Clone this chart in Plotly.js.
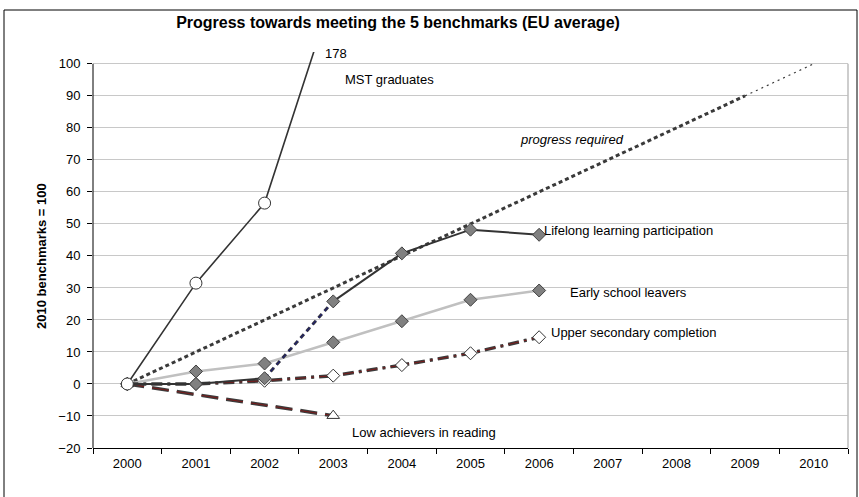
<!DOCTYPE html>
<html>
<head>
<meta charset="utf-8">
<script src="https://cdn.plot.ly/plotly-3.0.1.min.js"></script>
<style>
  html, body { margin: 0; padding: 0; background: #ffffff; }
  #chart { width: 859px; height: 497px; }
</style>
</head>
<body>
<div id="chart"></div>
<script>
// ---- data ----
var years = ['2000','2001','2002','2003','2004','2005','2006','2007','2008','2009','2010'];
var progressRequired = [0, 10, 20, 30, 40, 50, 60, 70, 80, 90, 100];
var mstYears = ['2000','2001','2002','2003'];
var mstGraduates = [0, 31.5, 56.5, 122.4];   // last point runs off the top of the chart
var mstLabel = '178';
var seriesYears = ['2000','2001','2002','2003','2004','2005','2006'];
var lifelong = [0, 0, 1.8, 25.8, 40.8, 48.2, 46.6];
var earlyLeavers = [0, 3.9, 6.4, 13.0, 19.6, 26.3, 29.2];
var upperSecondary = [0, 0, 1.0, 2.6, 5.9, 9.6, 14.6];
var readingYears = ['2000','2003'];
var lowAchievers = [0, -9.9];
var yTicks = [-20, -10, 0, 10, 20, 30, 40, 50, 60, 70, 80, 90, 100];

var FONT = 'Liberation Sans, Arial, Helvetica, sans-serif';
var dark = '#333333';

var traces = [];
// progress required (thick dotted, thinner at the end)
traces.push({x: years.slice(0, 10), y: progressRequired.slice(0, 10), mode: 'lines',
  line: {color: '#3a3a3a', width: 3, dash: '4px,3px'}, hoverinfo: 'skip'});
traces.push({x: years.slice(9), y: progressRequired.slice(9), mode: 'lines',
  line: {color: '#3a3a3a', width: 1.2, dash: '2px,4px'}, hoverinfo: 'skip'});
// early school leavers
traces.push({x: seriesYears, y: earlyLeavers, mode: 'lines+markers',
  line: {color: '#c0c0c0', width: 2.5},
  marker: {symbol: 'diamond', size: 10, color: '#808080', line: {color: '#404040', width: 1}}});
// low achievers in reading (long dashes, dark with red core)
traces.push({x: readingYears, y: lowAchievers, mode: 'lines',
  line: {color: '#3c3c3c', width: 3.5, dash: '17px,8px'}, hoverinfo: 'skip'});
traces.push({x: readingYears, y: lowAchievers, mode: 'lines+markers',
  line: {color: '#7a1a1a', width: 1, dash: '17px,8px'},
  marker: {symbol: 'triangle-up', size: 11, color: '#ffffff', line: {color: '#333333', width: 1}}});
// upper secondary completion (dash-dot, dark with red core)
traces.push({x: seriesYears, y: upperSecondary, mode: 'lines',
  line: {color: '#3c3c3c', width: 3.5, dash: '11px,5px,3px,5px'}, hoverinfo: 'skip'});
traces.push({x: seriesYears, y: upperSecondary, mode: 'lines+markers',
  line: {color: '#7a1a1a', width: 1, dash: '11px,5px,3px,5px'},
  marker: {symbol: 'diamond', size: 10, color: '#ffffff', line: {color: '#333333', width: 1}}});
// lifelong learning: dashed break 2002-2003
traces.push({x: seriesYears.slice(2, 4), y: lifelong.slice(2, 4), mode: 'lines',
  line: {color: '#333340', width: 3, dash: '5px,4px'}, hoverinfo: 'skip'});
traces.push({x: seriesYears.slice(2, 4), y: lifelong.slice(2, 4), mode: 'lines',
  line: {color: '#1a1a80', width: 1, dash: '5px,4px'}, hoverinfo: 'skip'});
traces.push({x: seriesYears.slice(0, 3), y: lifelong.slice(0, 3), mode: 'lines+markers',
  line: {color: dark, width: 2},
  marker: {symbol: 'diamond', size: 10, color: '#808080', line: {color: '#404040', width: 1}}});
traces.push({x: seriesYears.slice(3), y: lifelong.slice(3), mode: 'lines+markers',
  line: {color: dark, width: 2},
  marker: {symbol: 'diamond', size: 10, color: '#808080', line: {color: '#404040', width: 1}}});
// MST graduates
traces.push({x: mstYears, y: mstGraduates, mode: 'lines+markers', cliponaxis: true,
  line: {color: dark, width: 1.6},
  marker: {symbol: 'circle', size: 12, color: '#ffffff', line: {color: '#333333', width: 1}}});

function lab(text, x, y, italic) {
  return {text: text, x: x, y: y, xref: 'x', yref: 'y', xanchor: 'left', yanchor: 'middle',
    showarrow: false, font: {family: FONT, size: 13, color: '#000', style: italic ? 'italic' : 'normal'}};
}

var layout = {
  width: 859, height: 497,
  margin: {l: 93, r: 11, t: 52, b: 49},
  paper_bgcolor: '#ffffff', plot_bgcolor: '#ffffff',
  showlegend: false,
  font: {family: FONT, size: 13, color: '#000'},
  title: {text: '<b>Progress towards meeting the 5 benchmarks (EU average)</b>',
    xref: 'container', yref: 'container', x: 398/859, y: 1 - 22/497,
    xanchor: 'center', yanchor: 'middle', font: {family: FONT, size: 16, color: '#000'}},
  xaxis: {type: 'category', range: [-0.5, 10.5], tickson: 'boundaries',
    ticks: 'outside', ticklen: 5, tickcolor: '#000', tickwidth: 1,
    showline: true, linecolor: '#000', linewidth: 1, showgrid: false, zeroline: false,
    tickfont: {family: FONT, size: 13, color: '#000'}, ticklabelstandoff: 3, fixedrange: true},
  yaxis: {range: [-20, 103.7], tickmode: 'array', tickvals: yTicks,
    ticks: 'outside', ticklen: 5, tickcolor: '#000', tickwidth: 1,
    showline: false, showgrid: true, gridcolor: '#c8c8c8', gridwidth: 1, zeroline: false,
    tickfont: {family: FONT, size: 13, color: '#000'}, ticklabelstandoff: 4, fixedrange: true},
  shapes: [
    {type: 'line', xref: 'paper', yref: 'y', x0: 0, x1: 0, y0: -20, y1: 100, line: {color: '#000', width: 1}},
    {type: 'line', xref: 'paper', yref: 'y', x0: 1, x1: 1, y0: -20, y1: 100, line: {color: '#bdbdbd', width: 1.5}},
    {type: 'rect', xref: 'paper', yref: 'paper', x0: (4-93)/755, x1: (857-93)/755,
      y0: (448-505)/396, y1: (448-10)/396, line: {color: '#000', width: 1}, layer: 'below'}
  ],
  annotations: [
    lab(mstLabel, 2.857, 103.3),
    lab('MST graduates', 3.139, 95),
    lab('progress required', 5.695, 76.25, true),
    lab('Lifelong learning participation', 6.036, 47.9),
    lab('Early school leavers', 6.423, 28.5),
    lab('Upper secondary completion', 6.142, 16.0),
    lab('Low achievers in reading', 3.245, -15.2),
    {text: '<b>2010 benchmarks = 100</b>', xref: 'paper', yref: 'y', x: 0, y: 40, xshift: -51,
      textangle: -90, showarrow: false, xanchor: 'center', yanchor: 'middle',
      font: {family: FONT, size: 13, color: '#000'}}
  ]
};

Plotly.newPlot('chart', traces, layout, {displayModeBar: false, staticPlot: true});
</script>
</body>
</html>
